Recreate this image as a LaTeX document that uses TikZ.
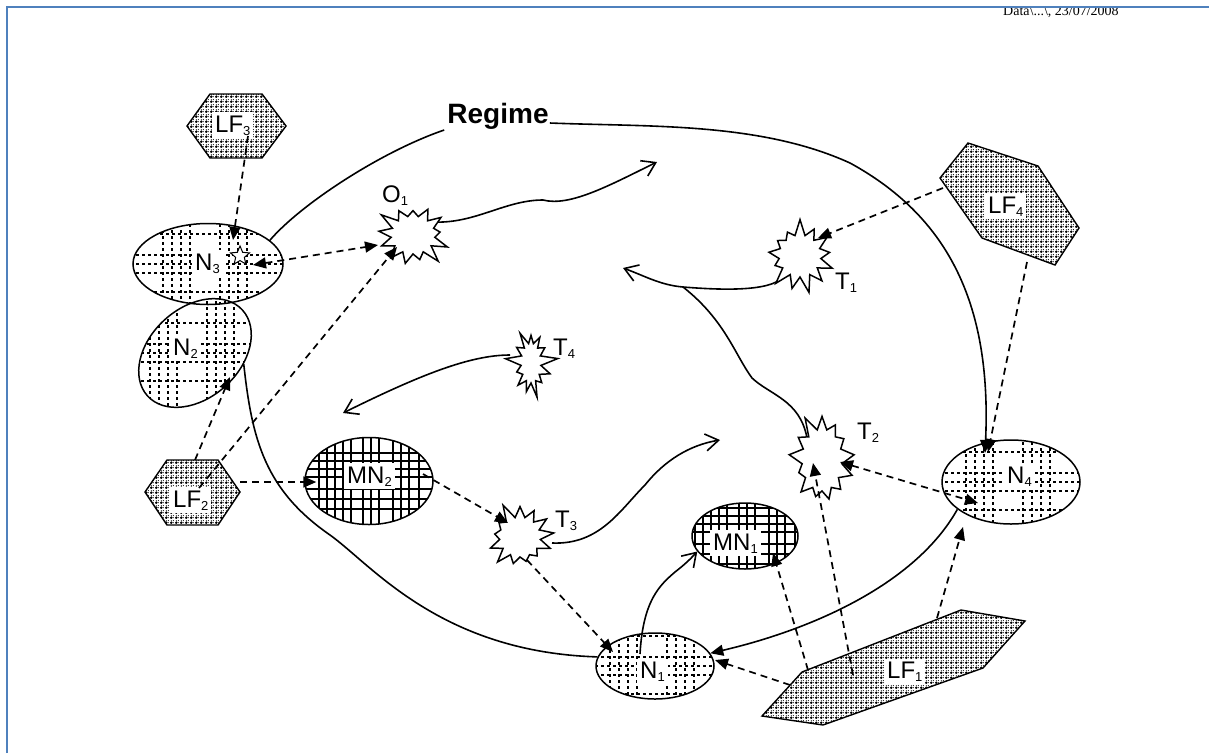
\documentclass[tikz,border=0pt]{standalone}
\usepackage{fontspec}
\setmainfont{Liberation Sans}
\newfontfamily\datefont{Liberation Serif}
\usetikzlibrary{shapes.geometric,shapes.symbols,arrows.meta,calc,patterns}
\definecolor{frameblue}{RGB}{79,129,189}
\pgfdeclarelayer{bg}
\pgfsetlayers{bg,main}
\pgfdeclarepatternformonly{lfpat}{\pgfqpoint{0pt}{0pt}}{\pgfqpoint{5pt}{5pt}}{\pgfqpoint{5pt}{5pt}}{%
  \pgfsetlinewidth{0.85pt}%
  \pgfpathcircle{\pgfqpoint{1.5pt}{1.6pt}}{1.05pt}%
  \pgfusepath{stroke}%
  \pgfpathcircle{\pgfqpoint{4pt}{1.6pt}}{0.6pt}%
  \pgfpathcircle{\pgfqpoint{1.5pt}{4.1pt}}{0.6pt}%
  \pgfpathcircle{\pgfqpoint{4pt}{4.1pt}}{0.7pt}%
  \pgfusepath{fill}%
}
\newcommand\sbs[1]{\raisebox{-3pt}{\fontsize{13}{13}\selectfont #1}}
\tikzset{
  sol/.style={line width=1.6pt},
  dsh/.style={line width=1.7pt, dash pattern=on 7pt off 5pt},
  fa/.style={-{Triangle[length=13pt,width=11pt]}},
  fab/.style={{Triangle[length=13pt,width=11pt]}-{Triangle[length=13pt,width=11pt]}},
  oa/.style={-{Straight Barb[length=13pt,width=17pt]}},
  lbl/.style={font=\fontsize{24}{26}\selectfont, inner sep=3pt, fill=white, anchor=base west},
  nell/.style={ellipse, draw, line width=1.5pt, inner sep=0pt},
  burst/.style={starburst, draw, fill=white, line width=1.5pt, inner sep=0pt, starburst points=13, starburst point height=17pt},
  hexa/.style={pattern=lfpat, draw, line width=1.4pt},
  ndash/.style={line width=1.5pt, dash pattern=on 3pt off 3pt},
  msol/.style={line width=1.4pt},
}
\newcommand\hatchN[5]{%
  \begin{scope}
    \clip[rotate around={#5:(#1,#2)}] (#1,#2) ellipse [x radius=#3, y radius=#4];
    \foreach \d in {-30,-9,0,9,28}
      \draw[ndash] ({#1-90},{#2+\d}) -- ({#1+90},{#2+\d});
    \foreach \d in {-45,-36,-27,-18,12,21,30,39}
      \draw[ndash] ({#1+\d},{#2-70}) -- ({#1+\d},{#2+70});
  \end{scope}}
\newcommand\hatchM[4]{%
  \begin{scope}
    \clip (#1,#2) ellipse [x radius=#3, y radius=#4];
    \foreach \d in {-28,-20,-12,-4,8,18,28}
      \draw[msol] ({#1-80},{#2+\d}) -- ({#1+80},{#2+\d});
    \foreach \d in {-50,-42,-34,-26,-18,-6,2,10,24,32,40,50}
      \draw[msol] ({#1+\d},{#2-60}) -- ({#1+\d},{#2+60});
  \end{scope}}
\begin{document}
\begin{tikzpicture}[x=1pt,y=-1pt]
\useasboundingbox (0,0) rectangle (1209,753);

% date and frame
\node[font=\datefont\fontsize{14}{16}\selectfont, anchor=base west, inner sep=0pt] (date) at (1003,15.5) {Data\textbackslash...\textbackslash, 23/07/2008};
\fill[white] (0,0) rectangle (1209,7);
\draw[frameblue, line width=2.5pt] (7,753) -- (7,7) -- (1209,7);

% hexagon centres
\coordinate (LF3) at (236,126);
\coordinate (LF2) at (192,492);
\coordinate (LF4) at (1010,203);
\coordinate (LF1) at (893,669);

% ellipse nodes
\node[nell, minimum width=150pt, minimum height=81pt] (N3) at (208,264) {};
\node[nell, minimum width=128pt, minimum height=90pt, rotate=42] (N2) at (195,353) {};
\node[nell, minimum width=118pt, minimum height=66pt] (N1) at (655,666) {};
\node[nell, minimum width=138pt, minimum height=84pt] (N4) at (1011,482) {};
\node[nell, minimum width=128pt, minimum height=87pt] (MN2) at (369,481) {};
\node[nell, minimum width=106pt, minimum height=66pt] (MN1) at (745,536) {};

% star bursts
\node[burst, minimum width=78pt, minimum height=72pt, random starburst=3] (O1) at (413,235) {};
\node[burst, minimum width=76pt, minimum height=76pt, random starburst=7] (T1) at (800,256) {};
\node[burst, minimum width=74pt, minimum height=96pt, random starburst=11] (T2) at (822,460) {};
\node[burst, minimum width=75pt, minimum height=74pt, random starburst=5] (T3) at (520,537) {};
\node[burst, minimum width=54pt, minimum height=74pt, random starburst=9] (T4) at (531,363) {};
\node[star, star points=5, star point ratio=2.2, draw, fill=white, line width=1pt, minimum size=20pt, inner sep=0pt] (N3s) at (240,256) {};

% Regime title
\node[font=\fontsize{28}{30}\selectfont\bfseries, anchor=base, inner sep=1pt] (Reg) at (498,123) {Regime};

% free arrow ends
\coordinate (o1e) at (657,162);
\coordinate (t1e) at (623,268);
\coordinate (t4e) at (343,413);
\coordinate (t3e) at (720,440);

\begin{pgfonlayer}{bg}
  \path[hexa] (187,126) -- (210,94) -- (262,94) -- (286,126) -- (262,158) -- (210,158) -- cycle;
  \path[hexa] (145,492) -- (167,460) -- (218,460) -- (240,492) -- (218,525) -- (167,525) -- cycle;
  \path[hexa] (968,143) -- (1038,166) -- (1079,228) -- (1055,265) -- (982,238) -- (940,178) -- cycle;
  \path[hexa] (762,716) -- (802,672) -- (961,610) -- (1025,621) -- (983,668) -- (823,725) -- cycle;
  \hatchN{208}{264}{75}{40.5}{0}
  \hatchN{195}{353}{64}{45}{42}
  \hatchN{655}{666}{59}{33}{0}
  \hatchN{1011}{482}{69}{42}{0}
  \hatchM{369}{481}{64}{43.5}
  \hatchM{745}{536}{53}{33}
  % solid curves
  \draw[sol] (N3.21) .. controls (300,205) and (380,152) .. ($(Reg.base west)+(-2,7)$);
  \draw[sol, fa] (Reg.base east) .. controls (650,127) and (760,122) .. (850,163) .. controls (945,215) and (992,300) .. ($(N4)+(-26,-29)$);
  \draw[sol] (N2.-55) .. controls (252,440) and (265,490) .. (330,535) .. controls (372,565) and (440,652) .. (N1.171);
  \draw[sol, fa] (N4.207) .. controls (915,585) and (810,630) .. (N1.13);
  \draw[sol, oa] ($(O1)+(20,-13)$) .. controls (475,224) and (505,200) .. (543,200) .. controls (570,207) and (610,185) .. (o1e);
  \draw[sol, oa] ($(T1)+(-17,21)$) .. controls (770,292) and (720,290) .. (683,287) coordinate (br) .. controls (660,285) and (645,276) .. (t1e);
  \draw[sol] (br) .. controls (725,320) and (735,355) .. (752,378) .. controls (770,395) and (800,400) .. ($(T2)+(-15,-22)$);
  \draw[sol, oa] ($(T4)+(-21,-8)$) .. controls (470,355) and (420,375) .. (t4e);
  \draw[sol, oa] ($(T3)+(32,6)$) .. controls (600,545) and (620,510) .. (645,485) .. controls (665,460) and (690,445) .. (t3e);
  \draw[sol, oa] ($(N1)+(-15,-12)$) .. controls (643,600) and (660,585) .. (675,572) .. controls (688,562) and (693,556) .. (MN1.198);
\end{pgfonlayer}

% labels
\node[lbl] (LF3l) at (212,132) {LF\sbs{3}};
\node[lbl] (LF2l) at (170,507) {LF\sbs{2}};
\node[lbl] (LF4l) at (985,213) {LF\sbs{4}};
\node[lbl] (LF1l) at (884,678) {LF\sbs{1}};
\node[lbl] (N3l) at (192,270) {N\sbs{3}};
\node[lbl] (N2l) at (170,355) {N\sbs{2}};
\node[lbl] (N1l) at (637,678) {N\sbs{1}};
\node[lbl] (N4l) at (1004,483) {N\sbs{4}};
\node[lbl] (MN2l) at (344,483) {MN\sbs{2}};
\node[lbl] (MN1l) at (710,550) {MN\sbs{1}};
\node[lbl, fill=none] (O1l) at (379,202) {O\sbs{1}};
\node[lbl, fill=none] (T1l) at (832,289) {T\sbs{1}};
\node[lbl, fill=none] (T2l) at (854,439) {T\sbs{2}};
\node[lbl, fill=none] (T3l) at (552,527) {T\sbs{3}};
\node[lbl, fill=none] (T4l) at (550,355) {T\sbs{4}};

% dashed connectors
\draw[dsh, fa] ($(LF3)+(12,10)$) -- ($(N3s)+(-7,-16)$);
\draw[dsh, fab] ($(N3s)+(13,9)$) -- ($(O1)+(-35,10)$);
\draw[dsh, fa] ($(LF2)+(7,-4)$) -- ($(O1)+(-16,12)$);
\draw[dsh, fa] ($(LF2)+(3,-32)$) -- ($(N2)+(35,24)$);
\draw[dsh, fa] ($(LF2)+(48,-10)$) -- ($(MN2.west)+(12,1)$);
\draw[dsh, fa] ($(MN2)+(54,-7)$) -- ($(T3)+(-12,-14)$);
\draw[dsh, fa] ($(T3)+(7,23)$) -- ($(N1)+(-42,-14)$);
\draw[dsh, fa] ($(LF1)+(-103,16)$) -- ($(N1)+(60,-6)$);
\draw[dsh, fa] ($(LF1)+(-85,1)$) -- ($(MN1)+(28,17)$);
\draw[dsh, fa] ($(LF1)+(-40,6)$) -- ($(T2)+(-9,3)$);
\draw[dsh, fa] ($(LF1)+(44,-51)$) -- ($(N4)+(-48,45)$);
\draw[dsh, fab] ($(T2)+(18,2)$) -- ($(N4)+(-33,21)$);
\draw[dsh, fa] ($(LF4)+(-67,-15)$) -- ($(T1)+(18,-18)$);
\draw[dsh, fa] ($(LF4)+(17,59)$) -- ($(N4)+(-23,-30)$);
\end{tikzpicture}
\end{document}
